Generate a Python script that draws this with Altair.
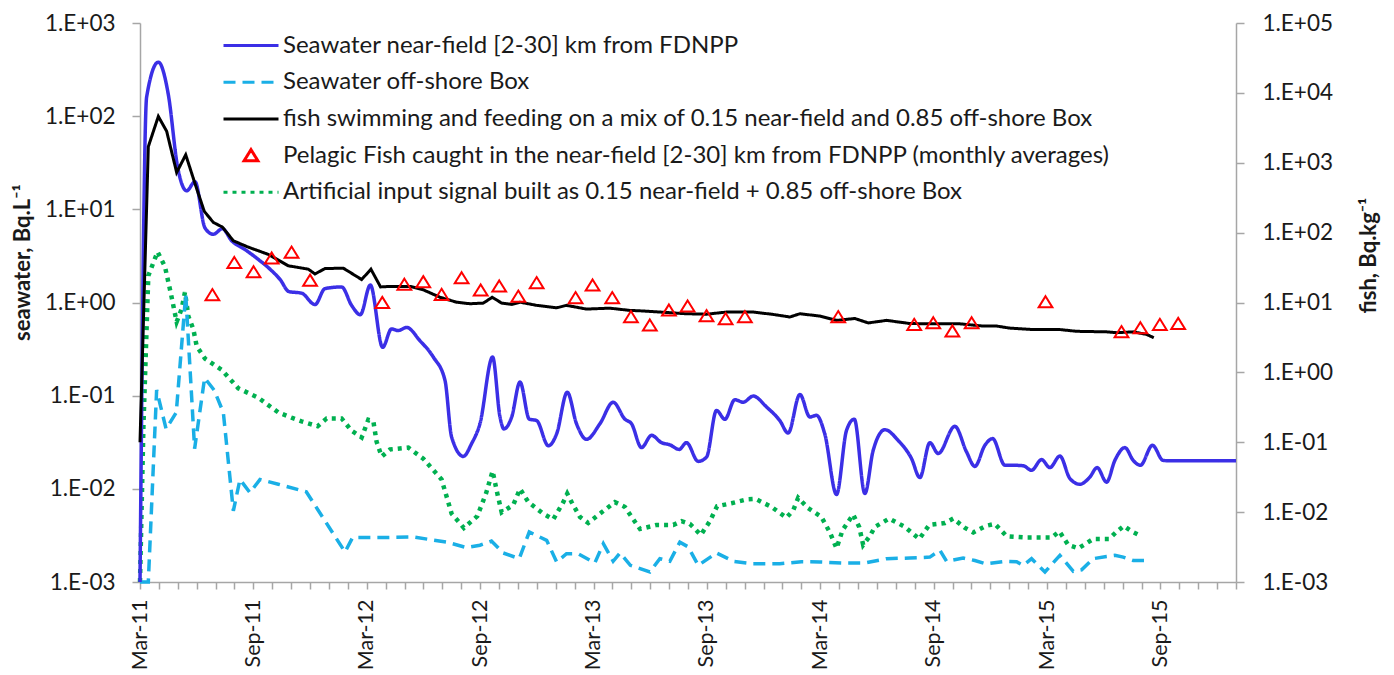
import altair as alt
import pandas as pd

# ---------------- series names ----------------
S_NEAR = "Seawater near-field [2-30] km from FDNPP"
S_OFF = "Seawater off-shore Box"
S_FISHM = "fish swimming and feeding on a mix of 0.15 near-field and 0.85 off-shore Box"
S_FISHO = "Pelagic Fish caught in the near-field [2-30] km from FDNPP (monthly averages)"
S_ART = "Artificial input signal built as 0.15 near-field + 0.85 off-shore Box"
SERIES = [S_NEAR, S_OFF, S_FISHM, S_FISHO, S_ART]

# x = months since 1 March 2011
MONTH_LABELS = ["Mar-11", "Sep-11", "Mar-12", "Sep-12", "Mar-13", "Sep-13",
                "Mar-14", "Sep-14", "Mar-15", "Sep-15"]
LEFT_TICKS = [0.001, 0.01, 0.1, 1, 10, 100, 1000]
LEFT_LABELS = ["1.E-03", "1.E-02", "1.E-01", "1.E+00", "1.E+01", "1.E+02", "1.E+03"]
RIGHT_TICKS = [0.001, 0.01, 0.1, 1, 10, 100, 1000, 10000, 100000]
RIGHT_LABELS = ["1.E-03", "1.E-02", "1.E-01", "1.E+00", "1.E+01", "1.E+02",
                "1.E+03", "1.E+04", "1.E+05"]

# Seawater near-field (Bq/L)
NEAR_M = [0.0, 0.35, 0.97, 1.5, 1.99, 2.47, 2.91, 3.44, 3.88, 4.36, 4.85, 5.56, 6.26,
          6.88, 7.41, 7.88, 8.55, 9.26, 9.79, 10.67, 11.2, 11.66, 12.19, 12.84, 13.31,
          13.66, 14.11, 14.81, 15.52, 16.14, 16.49, 17.11, 17.55, 17.99, 18.66, 19.05,
          19.26, 19.67, 20.11, 20.6, 20.99, 21.61, 22.05, 22.61, 23.1, 23.63, 24.34,
          25.04, 25.66, 26.01, 26.54, 27.07, 27.6, 28.04, 28.53, 28.92, 29.54, 29.98,
          30.51, 30.95, 31.48, 31.92, 32.45, 33.16, 33.86, 34.3, 34.92, 35.45, 35.8,
          36.24, 36.86, 37.39, 37.8, 38.36, 38.8, 39.42, 40.12, 40.83, 41.27, 41.8,
          42.24, 43.12, 43.74, 44.18, 44.71, 45.12, 45.77, 46.21, 46.74, 47.18, 47.71,
          48.15, 48.68, 49.21, 49.74, 50.27, 50.65, 51.15, 51.59, 52.12, 52.56, 52.94,
          53.58, 54.14, 54.5, 55.0, 56.0, 57.0, 58.0]
NEAR_V = [0.001, 160, 380, 170, 28.5, 15.8, 19.8, 6.3, 5.4, 6.2, 4.6, 3.7, 2.9,
          2.28, 1.77, 1.31, 1.26, 0.95, 1.41, 1.47, 0.93, 0.74, 1.54, 0.33, 0.52,
          0.50, 0.54, 0.39, 0.26, 0.146, 0.036, 0.0223, 0.0306, 0.050, 0.26, 0.059,
          0.044, 0.059, 0.14, 0.056, 0.054, 0.029, 0.039, 0.109, 0.050, 0.034, 0.050,
          0.085, 0.056, 0.050, 0.0277, 0.0375, 0.0313, 0.0297, 0.0265, 0.0313, 0.0197,
          0.0219, 0.0695, 0.0557, 0.0906, 0.085, 0.099, 0.0755, 0.054, 0.0397, 0.103,
          0.059, 0.0615, 0.0387, 0.0087, 0.0425, 0.056, 0.0089, 0.0259, 0.0431, 0.0331,
          0.0211, 0.0132, 0.0313, 0.0239, 0.0469, 0.0249, 0.0174, 0.0293, 0.0346,
          0.0179, 0.0179, 0.0177, 0.0158, 0.0206, 0.0169, 0.0225, 0.0129, 0.0112,
          0.0134, 0.0169, 0.0118, 0.0202, 0.0277, 0.0202, 0.0179, 0.0293, 0.0202,
          0.0200, 0.0200, 0.0200, 0.0200, 0.0200]

# Seawater off-shore Box (Bq/L)
OFF_M = [0.0, 0.44, 0.88, 1.38, 1.92, 2.42, 2.89, 3.42, 3.92, 4.41, 4.94, 5.29, 5.82,
         6.35, 7.32, 8.8, 10.85, 11.25, 12.79, 14.46, 16.23, 17.28, 17.99, 18.6, 19.22,
         20.07, 20.6, 21.52, 22.05, 22.57, 23.19, 24.07, 24.52, 25.04, 25.4, 25.95,
         26.98, 27.51, 28.04, 28.57, 29.01, 29.54, 30.51, 31.4, 32.45, 33.86, 35.0,
         35.98, 37.22, 38.36, 39.51, 40.74, 41.8, 42.33, 42.68, 43.56, 44.18, 44.76,
         45.86, 46.39, 46.74, 47.18, 47.89, 48.68, 49.39, 49.83, 50.45, 51.15, 51.59,
         52.03, 52.56, 53.17]
OFF_V = [0.001, 0.001, 0.115, 0.044, 0.066, 1.23, 0.027, 0.155, 0.115, 0.066, 0.0058,
         0.0126, 0.0091, 0.0126, 0.0112, 0.0093, 0.0021, 0.003, 0.003, 0.00304, 0.00268,
         0.00234, 0.00248, 0.00275, 0.00205, 0.00178, 0.00344, 0.0028, 0.00164, 0.00201,
         0.00201, 0.0016, 0.00258, 0.00167, 0.00205, 0.00151, 0.00128, 0.00178, 0.00167,
         0.00268, 0.00238, 0.00151, 0.00205, 0.00167, 0.00157, 0.00157, 0.00165,
         0.00164, 0.0016, 0.0016, 0.00178, 0.00181, 0.00185, 0.00219, 0.00167, 0.00181,
         0.0017, 0.00157, 0.00167, 0.00165, 0.00151, 0.00178, 0.00128, 0.00193, 0.0013,
         0.00135, 0.00178, 0.00188, 0.00193, 0.00185, 0.0017, 0.0017]

# Artificial input signal (Bq/L)
ART_M = [0.0, 0.18, 0.44, 0.93, 1.32, 1.64, 1.94, 2.2, 2.38, 2.56, 2.82, 3.0, 3.44, 4.32,
         5.2, 6.26, 7.32, 8.02, 8.55, 9.4, 9.88, 10.67, 11.2, 11.73, 12.08, 12.35, 12.52,
         12.79, 13.23, 14.2, 14.99, 15.96, 16.49, 17.14, 17.85, 18.31, 18.66, 18.91,
         19.14, 19.75, 20.11, 20.55, 21.34, 21.87, 22.4, 22.61, 22.84, 23.28, 23.72,
         24.43, 25.13, 25.66, 25.93, 26.46, 27.34, 28.22, 28.66, 29.1, 29.68, 30.16,
         30.54, 31.3, 32.1, 32.57, 33.42, 34.21, 34.57, 34.83, 35.36, 36.06, 36.51,
         36.86, 37.18, 37.74, 38.06, 38.27, 38.62, 38.89, 39.65, 40.48, 41.24, 41.77,
         42.6, 43.04, 43.66, 44.1, 44.76, 45.24, 45.86, 46.92, 48.24, 48.65, 49.12,
         49.66, 50.45, 51.29, 51.64, 52.06, 52.47, 52.87]
ART_V = [0.001, 0.046, 1.94, 3.5, 2.43, 1.23, 0.62, 0.85, 1.29, 0.71, 0.52, 0.34, 0.25,
         0.19, 0.12, 0.095, 0.066, 0.058, 0.053, 0.047, 0.057, 0.057, 0.042, 0.0356,
         0.055, 0.053, 0.032, 0.0222, 0.0265, 0.0277, 0.0211, 0.0126, 0.00542, 0.0038,
         0.0051, 0.0089, 0.0155, 0.0089, 0.0056, 0.0067, 0.01, 0.0072, 0.0054, 0.0047,
         0.0072, 0.0089, 0.0072, 0.005, 0.0043, 0.0056, 0.0072, 0.0064, 0.0053, 0.0037,
         0.0041, 0.0041, 0.0045, 0.0042, 0.0032, 0.0045, 0.0065, 0.007, 0.0077, 0.0078,
         0.0064, 0.0049, 0.0059, 0.008, 0.0062, 0.005, 0.0034, 0.0023, 0.0036, 0.0053,
         0.0039, 0.0025, 0.0031, 0.0039, 0.0048, 0.0039, 0.0029, 0.0041, 0.0043, 0.0048,
         0.0038, 0.0034, 0.004, 0.0042, 0.0031, 0.003, 0.003, 0.0035, 0.0025, 0.0023,
         0.0029, 0.0029, 0.0034, 0.004, 0.0035, 0.0032]

# Fish model (Bq/kg)
FISHM_M = [0.0, 0.44, 0.97, 1.41, 1.94, 2.42, 2.91, 3.4, 3.88, 4.36, 4.94, 5.73, 6.79,
           7.85, 8.91, 9.26, 9.79, 10.76, 11.73, 12.22, 12.73, 13.23, 14.29, 14.99,
           15.87, 16.75, 17.46, 18.17, 18.64, 19.14, 19.67, 20.11, 20.99, 22.05, 22.57,
           23.63, 24.85, 25.93, 26.46, 27.51, 28.92, 29.98, 31.04, 32.45, 33.51, 34.39,
           34.92, 35.98, 36.86, 37.83, 38.54, 39.51, 40.74, 41.98, 43.39, 44.62, 45.33,
           46.03, 47.27, 48.68, 49.56, 51.15, 51.67, 52.56, 53.26, 53.65]
FISHM_V = [0.1, 1700, 4600, 2830, 726, 1300, 504, 202, 140, 120, 76.5, 62, 48.8, 33.5,
           30, 25.6, 30.6, 31, 21.3, 30, 16.7, 17, 17, 15.2, 11.9, 10.1, 9.6, 9.8, 11.9,
           9.8, 9.4, 10.1, 9.1, 8.4, 9.1, 8.05, 8.3, 7.7, 7.6, 7.3, 6.9, 6.8, 7.3, 7.3,
           6.75, 6.2, 6.9, 6.4, 5.55, 5.9, 5.1, 5.55, 5.0, 4.95, 4.95, 4.6, 4.6, 4.3, 4.1,
           4.1, 3.87, 3.8, 3.7, 3.8, 3.5, 3.13]

# Pelagic fish observed (Bq/kg)
FISHO_M = [3.83, 4.99, 6.01, 6.97, 8.02, 9.0, 12.82, 13.99, 14.99, 15.96, 17.02, 18.03,
           19.01, 20.02, 20.99, 23.05, 23.95, 24.99, 25.98, 26.98, 27.99, 28.98, 29.98,
           30.99, 32.01, 36.95, 40.97, 41.98, 42.99, 44.01, 47.92, 51.94, 52.94, 53.97,
           54.94]
FISHO_V = [12.8, 36.9, 27.2, 42.7, 51.9, 20.6, 9.9, 18, 19.6, 12.9, 22.3, 14.9, 17, 12.2,
           19, 11.6, 17.6, 11.6, 6.2, 4.7, 7.7, 8.8, 6.4, 5.8, 6.2, 6.2, 4.8, 5.07, 3.87,
           5.07, 10.1, 3.78, 4.3, 4.8, 4.95]

COLORS = ["#3B2FE6", "#1AAFE6", "#000000", "#FF0000", "#00B050"]
DASHES = [[1, 0], [12, 7], [1, 0], [1, 0], [4, 5]]
LINE_SYM = "M-2.5,0L2.5,0"
TRI = "M0,-0.54L0.625,0.47L-0.625,0.47Z"
SHAPES = [LINE_SYM, LINE_SYM, LINE_SYM, TRI, LINE_SYM]


def frame(ms, vs, name):
    return pd.DataFrame({"m": ms, "v": vs, "series": name})


FONT = "Lato"
TXT = "#1a1a1a"
GREY = "#a6a6a6"

legend = alt.Legend(
    orient="none", legendX=98.5, legendY=10, title=None, direction="vertical",
    labelFont=FONT, labelFontSize=24, labelColor=TXT, labelLimit=1500,
    symbolSize=484, symbolStrokeWidth=3, symbolFillColor="transparent",
    labelOffset=19.5, rowPadding=11.7, padding=0,
)

COLOR = alt.Color("series:N", scale=alt.Scale(domain=SERIES, range=COLORS), legend=legend)
DASH = alt.StrokeDash("series:N", scale=alt.Scale(domain=SERIES, range=DASHES), legend=legend)
SHAPE = alt.Shape("series:N", scale=alt.Scale(domain=SERIES, range=SHAPES), legend=legend)

x_label_expr = ("datum.value % 6 === 0 && datum.value / 6 < {n} ? {arr}[datum.value / 6] : ''"
                .format(n=len(MONTH_LABELS), arr=str(MONTH_LABELS)))
X = alt.X("m:Q", title=None,
          scale=alt.Scale(domain=[0, 58], nice=False, zero=False),
          axis=alt.Axis(values=list(range(0, 59)), labelExpr=x_label_expr, labelAngle=270,
                        labelOverlap=False, labelPadding=10, labelFont=FONT,
                        labelFontSize=21.5, labelColor=TXT, tickSize=7, tickColor=GREY,
                        tickWidth=1.5, domainColor=GREY, domainWidth=1.5, grid=False))

Y_SEA = alt.Y("v:Q", title="seawater, Bq.L\u207b\u00b9",
              scale=alt.Scale(type="log", domain=[0.001, 1000], nice=False),
              axis=alt.Axis(orient="left", values=LEFT_TICKS,
                            labelExpr="%s[round(log(datum.value)/LN10) + 3]" % str(LEFT_LABELS),
                            labelFont=FONT, labelFontSize=22.5, labelColor=TXT, labelPadding=17,
                            tickSize=8, tickColor=GREY, tickWidth=1.5, domainColor=GREY,
                            domainWidth=1.5, grid=False, titleFont=FONT, titleFontSize=22,
                            titleFontWeight="bold", titleColor=TXT, titlePadding=10,
                            titleAngle=270, titleY=239))
Y_FISH = alt.Y("v:Q", title="fish, Bq.kg\u207b\u00b9",
               scale=alt.Scale(type="log", domain=[0.001, 100000], nice=False),
               axis=alt.Axis(orient="right", values=RIGHT_TICKS,
                             labelExpr="%s[round(log(datum.value)/LN10) + 3]" % str(RIGHT_LABELS),
                             labelFont=FONT, labelFontSize=22.5, labelColor=TXT, labelPadding=18,
                             tickSize=8, tickColor=GREY, tickWidth=1.5, domainColor=GREY,
                             domainWidth=1.5, grid=False, titleFont=FONT, titleFontSize=22,
                             titleFontWeight="bold", titleColor=TXT, titlePadding=48,
                             titleAngle=270, titleY=232))

green = alt.Chart(frame(ART_M, ART_V, S_ART)).mark_line(
    strokeWidth=4.5).encode(x=X, y=Y_SEA, color=COLOR, strokeDash=DASH)
cyan = alt.Chart(frame(OFF_M, OFF_V, S_OFF)).mark_line(
    strokeWidth=3.5).encode(x=X, y=Y_SEA, color=COLOR, strokeDash=DASH)
blue = alt.Chart(frame(NEAR_M, NEAR_V, S_NEAR)).mark_line(
    strokeWidth=3.5, interpolate="monotone").encode(x=X, y=Y_SEA, color=COLOR, strokeDash=DASH)
black = alt.Chart(frame(FISHM_M, FISHM_V, S_FISHM)).mark_line(
    strokeWidth=3).encode(x=X, y=Y_FISH, color=COLOR, strokeDash=DASH)
tri = alt.Chart(frame(FISHO_M, FISHO_V, S_FISHO)).mark_point(
    filled=False, strokeWidth=2, size=484, opacity=1).encode(
    x=X, y=Y_FISH, color=COLOR, shape=SHAPE)

sea = alt.layer(green, cyan, blue)
fish = alt.layer(black, tri)

chart = alt.layer(sea, fish).resolve_scale(y="independent").properties(
    width=1096, height=559,
    autosize=alt.AutoSizeParams(type="none"),
    padding={"left": 132, "top": 15, "right": 150, "bottom": 90},
    background="white",
).configure_view(stroke=None)

chart.save("out.html", embed_options={"renderer": "svg", "actions": False})
